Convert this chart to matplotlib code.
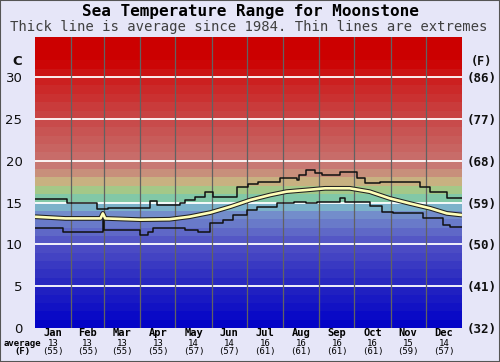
import matplotlib
matplotlib.use("Agg")
import matplotlib.pyplot as plt
from matplotlib.colors import LinearSegmentedColormap
from matplotlib.patches import Rectangle
import numpy as np

# month labels and monthly averages
months = ["Jan", "Feb", "Mar", "Apr", "May", "Jun",
          "Jul", "Aug", "Sep", "Oct", "Nov", "Dec"]
month_days = [31, 28, 31, 30, 31, 30, 31, 31, 30, 31, 30, 31]
month_avg_c = [13, 13, 13, 13, 14, 14, 16, 16, 16, 16, 15, 14]
month_avg_f = [55, 55, 55, 55, 57, 57, 61, 61, 61, 61, 59, 57]

# highest recorded (step line), day of year -> deg C
upper_days = [0, 27, 53, 62, 98, 104, 124, 128, 137, 145, 152, 173, 182, 191,
              209, 224, 226, 232, 239, 245, 261, 275, 282, 295, 329, 338, 352]
upper_vals = [15.4, 14.9, 14.2, 14.4, 15.2, 14.7, 15.0, 15.3, 15.7, 16.2, 15.7,
              16.9, 17.2, 17.4, 17.9, 17.7, 18.3, 18.9, 18.5, 18.3, 18.6, 17.9,
              17.3, 17.5, 16.9, 16.3, 15.5]

# lowest recorded (step line)
lower_days = [0, 24, 58, 59, 90, 97, 101, 128, 139, 150, 161, 169, 181, 190,
              207, 221, 232, 241, 261, 265, 286, 297, 306, 332, 349, 355]
lower_vals = [11.9, 11.5, 13.7, 11.7, 11.1, 11.5, 11.9, 11.7, 11.5, 12.5, 12.9,
              13.5, 14.1, 14.5, 14.9, 15.1, 14.9, 15.1, 15.5, 15.1, 14.6, 13.9,
              13.7, 13.1, 12.3, 12.1]

# average since 1984
avg_days = [0, 26, 56, 58, 60, 90, 115, 132, 150, 167, 184, 201, 215, 232,
            248, 269, 286, 303, 320, 338, 352, 365]
avg_vals = [13.3, 13.1, 13.1, 13.7, 13.1, 12.95, 13.0, 13.3, 13.8, 14.5, 15.3,
            15.9, 16.3, 16.5, 16.7, 16.7, 16.3, 15.5, 14.9, 14.3, 13.7, 13.5]

band_cmap = LinearSegmentedColormap.from_list("sea", [
    (0.0 / 35, "#0000c8"), (5.0 / 35, "#2424c0"), (10.0 / 35, "#5050c4"),
    (12.0 / 35, "#6470c8"), (14.0 / 35, "#7898cc"), (15.0 / 35, "#80c8c8"),
    (16.0 / 35, "#84c888"), (17.0 / 35, "#c8c888"), (18.0 / 35, "#c8a07c"),
    (19.0 / 35, "#c8807a"), (20.0 / 35, "#c8706c"), (25.0 / 35, "#c84848"),
    (30.0 / 35, "#cc1c1c"), (32.0 / 35, "#cc0000"), (1.0, "#cc0000")])

bg = "#e6e6f8"
mono = "DejaVu Sans Mono"

fig = plt.figure(figsize=(5, 3.62), dpi=100, facecolor=bg)
ax = fig.add_axes([0.07, 0.094, 0.854, 0.804])
ymax = 34.8
ax.set_xlim(0, 365)
ax.set_ylim(0, ymax)

for t in range(35):
    ax.axhspan(t, t + 1, color=band_cmap((t + 0.5) / 35), lw=0, zorder=0)

for t in range(5, 31, 5):
    ax.axhline(t, color="white", lw=1.3, zorder=1)

edges = np.cumsum(month_days)[:-1]
for e in edges:
    ax.axvline(e, color="#626262", lw=0.9, zorder=1)

ax.step(upper_days + [365], upper_vals + [upper_vals[-1]], where="post",
        color="#101010", lw=1.1, zorder=3)
ax.step(lower_days + [365], lower_vals + [lower_vals[-1]], where="post",
        color="#101010", lw=1.1, zorder=3)
ax.plot(avg_days, avg_vals, color="#202020", lw=3.4, zorder=4,
        solid_capstyle="butt")
ax.plot(avg_days, avg_vals, color="#ffffb8", lw=1.9, zorder=5,
        solid_capstyle="butt")

for s in ax.spines.values():
    s.set_visible(False)
ax.set_xticks([])
yt = list(range(0, 31, 5))
ax.set_yticks(yt)
ax.set_yticklabels([str(t) for t in yt], fontsize=9.5, color="#101010")
ax.tick_params(axis="y", length=0, pad=9)

ax2 = ax.twinx()
ax2.set_ylim(0, ymax)
ax2.set_yticks(yt)
ax2.set_yticklabels(["(%d)" % round(t * 9 / 5 + 32) for t in yt],
                    fontsize=9, fontweight="bold", family=mono, color="#101010")
ax2.tick_params(axis="y", length=0, pad=3)
for s in ax2.spines.values():
    s.set_visible(False)

ax.text(-0.042, 0.917, "C", transform=ax.transAxes, ha="center", va="center",
        fontsize=9.5, fontweight="bold", color="#101010")
ax.text(1.045, 0.914, "(F)", transform=ax.transAxes, ha="center", va="center",
        fontsize=8.5, fontweight="bold", family=mono, color="#101010")

starts = np.concatenate([[0], edges])
for i, m in enumerate(months):
    xm = starts[i] + month_days[i] / 2
    ax.text(xm, -0.017, m, transform=ax.get_xaxis_transform(), ha="center",
            va="center", fontsize=7.5, fontweight="bold", family=mono)
    ax.text(xm, -0.052, str(month_avg_c[i]), transform=ax.get_xaxis_transform(),
            ha="center", va="center", fontsize=6.5, family=mono)
    ax.text(xm, -0.082, "(%d)" % month_avg_f[i], transform=ax.get_xaxis_transform(),
            ha="center", va="center", fontsize=6.5, family=mono)

ax.text(-0.030, -0.052, "average", transform=ax.transAxes, ha="center",
        va="center", fontsize=6.5, fontweight="bold", family=mono)
ax.text(-0.030, -0.082, "(F)", transform=ax.transAxes, ha="center",
        va="center", fontsize=6.5, fontweight="bold", family=mono)

fig.text(0.5, 0.967, "Sea Temperature Range for Moonstone", ha="center",
         va="center", fontsize=11.5, fontweight="bold", family=mono)
fig.text(0.497, 0.925,
         "Thick line is average since 1984. Thin lines are extremes",
         ha="center", va="center", fontsize=10, family=mono, color="#404040")

fig.patches.append(Rectangle((0, 0), 1, 1, transform=fig.transFigure,
                             fill=False, edgecolor="#555555", lw=1.5))

fig.savefig("out.png", dpi=100, facecolor=bg)
